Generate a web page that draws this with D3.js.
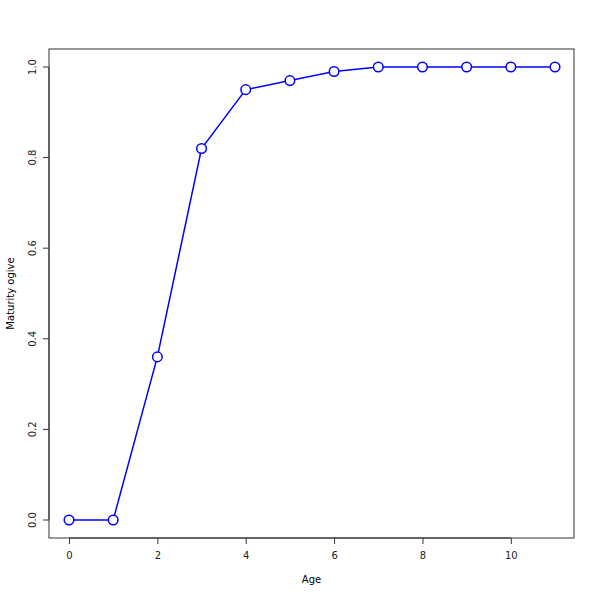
<!DOCTYPE html>
<html><head><meta charset="utf-8">
<script src="https://cdn.jsdelivr.net/npm/d3@7/dist/d3.min.js"></script>
<style>body{margin:0;background:#fff}</style>
</head><body>
<script>
const ages = [0,1,2,3,4,5,6,7,8,9,10,11];
const maturity = [0,0,0.36,0.82,0.95,0.97,0.99,1,1,1,1,1];
const xTicks = [0,2,4,6,8,10];
const yTicks = [0,0.2,0.4,0.6,0.8,1.0];
const xLabel = "Age";
const yLabel = "Maturity ogive";

const W=600,H=600;
const box={l:49,r:574,t:49,b:538};
const svg=d3.select("body").append("svg").attr("width",W).attr("height",H);
const x=d3.scaleLinear().domain([0,11]).range([69,555]);
const y=d3.scaleLinear().domain([0,1]).range([520,67]);
const font="DejaVu Sans, Liberation Sans, sans-serif";

svg.append("rect").attr("x",box.l).attr("y",box.t).attr("width",box.r-box.l).attr("height",box.b-box.t)
  .attr("fill","none").attr("stroke","#333").attr("stroke-width",1);

const xa=svg.append("g").attr("transform",`translate(0,${box.b})`)
  .call(d3.axisBottom(x).tickValues(xTicks).tickFormat(d3.format("d")).tickSize(6).tickPadding(8));
xa.select(".domain").attr("d",`M${x(0)},0H${x(10)}`).attr("stroke","#333");
const ya=svg.append("g").attr("transform",`translate(${box.l},0)`)
  .call(d3.axisLeft(y).tickValues(yTicks).tickFormat(d3.format(".1f")).tickSize(6).tickPadding(8));
ya.select(".domain").attr("d",`M0,${y(0)}V${y(1)}`).attr("stroke","#333");
svg.selectAll(".tick line").attr("stroke","#333");
svg.selectAll(".tick text").attr("font-family",font).attr("font-size",10).attr("fill","#222");
ya.selectAll(".tick").attr("transform","translate(0,0)");
ya.selectAll(".tick line").attr("y1",d=>y(d)).attr("y2",d=>y(d));
ya.selectAll(".tick text").attr("text-anchor","middle").attr("x",0).attr("y",0).attr("dy","0.35em")
  .attr("transform",d=>`translate(-17,${y(d)}) rotate(-90)`);

svg.append("text").attr("x",(box.l+box.r)/2).attr("y",583).attr("text-anchor","middle")
  .attr("font-family",font).attr("font-size",10).text(xLabel);
svg.append("text").attr("transform",`translate(10,${(box.t+box.b)/2}) rotate(-90)`).attr("text-anchor","middle")
  .attr("font-family",font).attr("font-size",10).attr("dy","0.35em").text(yLabel);

const line=d3.line().x((d,i)=>x(ages[i])).y(d=>y(d));
svg.append("path").datum(maturity).attr("d",line).attr("fill","none").attr("stroke","#0000ff").attr("stroke-width",1.5);
svg.selectAll("circle.pt").data(maturity).join("circle").attr("class","pt")
  .attr("cx",(d,i)=>x(ages[i])).attr("cy",d=>y(d)).attr("r",4.8)
  .attr("fill","#fff").attr("stroke","#0000ff").attr("stroke-width",1.5);
</script>
</body></html>
